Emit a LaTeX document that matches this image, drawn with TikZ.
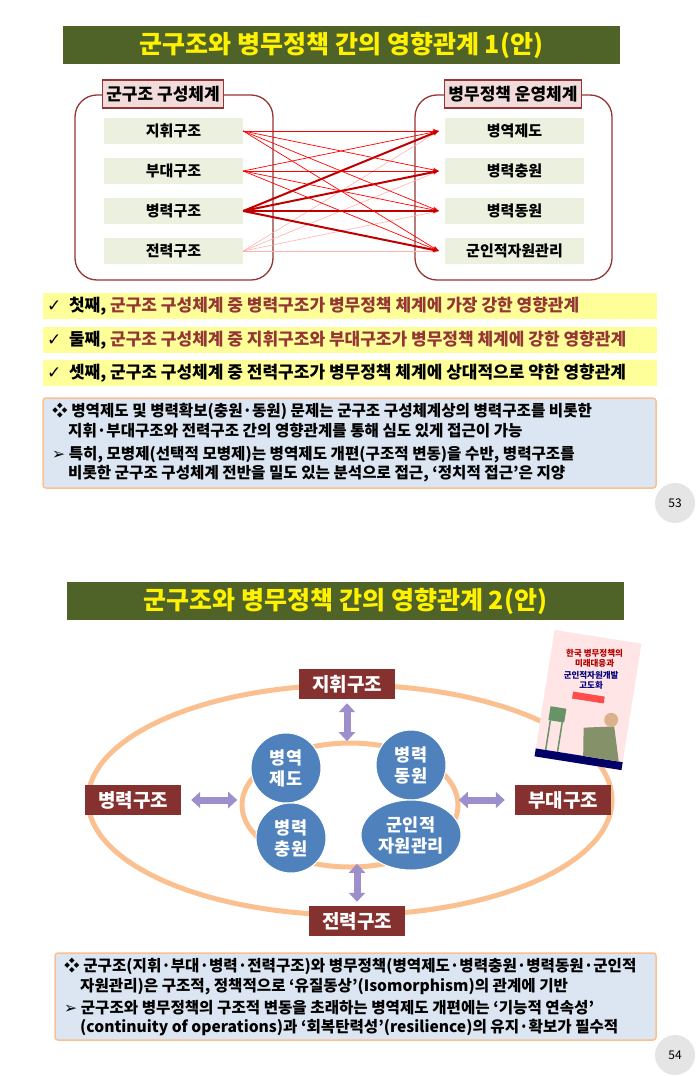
\documentclass[tikz,border=0pt]{standalone}
\usepackage{fontspec}
\setmainfont{Noto Sans CJK KR}
\newfontfamily\symfont{DejaVu Sans}
\usetikzlibrary{arrows.meta,positioning,shapes.geometric}
\definecolor{olive}{HTML}{4F6228}
\definecolor{dred}{HTML}{943634}
\definecolor{pinkf}{HTML}{F2DCDB}
\definecolor{itemf}{HTML}{EBF1DE}
\definecolor{yellowf}{HTML}{FFFF99}
\definecolor{bluef}{HTML}{DCE6F2}
\definecolor{orangel}{HTML}{FAC090}
\definecolor{circf}{HTML}{4F81BD}
\definecolor{lav}{HTML}{9C8FCB}
\newcommand{\chk}{{\symfont\normalfont\symfont ✓}}
\newcommand{\tri}{{\symfont ➢}}
\begin{document}
\begin{tikzpicture}[x=1pt,y=-1pt]
		\useasboundingbox (0,0) rectangle (699,1076);
		
		\tikzstyle{titlebar}=[fill=olive, text=yellow, font=\bfseries\fontsize{25}{28}\selectfont,
		minimum width=557, minimum height=38, inner sep=0pt]
		\tikzstyle{groupbox}=[draw=dred, line width=1.3pt, rounded corners=22pt]
		\tikzstyle{grouplabel}=[draw=dred, line width=1.3pt, fill=pinkf, font=\bfseries\fontsize{17}{19}\selectfont,
		minimum height=28, inner sep=4pt]
		\tikzstyle{item}=[fill=itemf, font=\bfseries\fontsize{15}{17}\selectfont, minimum width=139, minimum height=26, inner sep=0pt]
		\tikzstyle{checkbar}=[fill=yellowf, minimum width=614, minimum height=26, inner sep=0pt]
		\tikzstyle{checktext}=[anchor=west, font=\bfseries\fontsize{17}{19}\selectfont, inner sep=4pt]
		\tikzstyle{notebox}=[fill=bluef, draw=orangel, line width=1.5pt, rounded corners=3pt]
		\tikzstyle{notetext}=[font=\bfseries\fontsize{15.6}{19.5}\selectfont, align=left, anchor=north west, inner sep=0pt]
		\tikzstyle{pagenum}=[circle, fill=black!10, minimum size=40, font=\fontsize{12}{14}\selectfont]
		\tikzstyle{struct}=[fill=dred!90!black, text=white, font=\bfseries\fontsize{19}{22}\selectfont,
		minimum width=96, minimum height=30, inner sep=3pt]
		\tikzstyle{policy}=[circle, fill=circf, draw=white, line width=1pt, text=white, align=center,
		font=\bfseries\fontsize{17.5}{21}\selectfont, minimum size=70, inner sep=0pt]
		\tikzstyle{dblarrow}=[lav, line width=7pt, {Triangle[width=16pt,length=9pt]}-{Triangle[width=16pt,length=9pt]}]
		\tikzstyle{link}=[-{Stealth[length=6pt]}]
		
		% ---------- page 53 ----------
		\node[titlebar] (title1) at (341.5,45) {군구조와 병무정책 간의 영향관계 1(안)};
		
		\draw[groupbox] (75,95) rectangle (273,280);
		\draw[groupbox] (415,95) rectangle (612,280);
		\node[grouplabel] (lgroup) at (163,94) {군구조 구성체계};
		\node[grouplabel] (rgroup) at (513,94) {병무정책 운영체계};
		
		\node[item] (s1) at (173.5,131) {지휘구조};
		\node[item] (s2) at (173.5,171) {부대구조};
		\node[item] (s3) at (173.5,211) {병력구조};
		\node[item] (s4) at (173.5,251) {전력구조};
		\node[item] (p1) at (514.5,131) {병역제도};
		\node[item] (p2) at (514.5,171) {병력충원};
		\node[item] (p3) at (514.5,211) {병력동원};
		\node[item] (p4) at (514.5,251) {군인적자원관리};
		
		\foreach \j in {1,...,4} {
			\draw[link, red!30, line width=0.6pt] (s4.east) -- ([xshift=-6pt]p\j.west);
			\draw[link, red, line width=0.7pt] (s1.east) -- ([xshift=-6pt]p\j.west);
			\draw[link, red, line width=0.7pt] (s2.east) -- ([xshift=-6pt]p\j.west);
			\draw[link, red!75!black, line width=2pt] (s3.east) -- ([xshift=-6pt]p\j.west);
		}
		
		\node[checkbar] (c1) at (350,306) {};
		\node[checkbar] (c2) at (350,340) {};
		\node[checkbar] (c3) at (350,373) {};
		\node[checktext] at (c1.west) {\chk\ \ 첫째, \textcolor{dred}{군구조 구성체계 중 병력구조가 병무정책 체계에 가장 강한 영향관계}};
		\node[checktext] at (c2.west) {\chk\ \ 둘째, \textcolor{dred}{군구조 구성체계 중 지휘구조와 부대구조가 병무정책 체계에 강한 영향관계}};
		\node[checktext] at (c3.west) {\chk\ \ 셋째, 군구조 구성체계 중 전력구조가 병무정책 체계에 상대적으로 약한 영향관계};
		
		\draw[notebox] (43,398) rectangle (656,488);
		\node[notetext] (n1) at (52,403) {❖ 병역제도 및 병력확보(충원·동원) 문제는 군구조 구성체계상의 병력구조를 비롯한\\\hspace{16pt}지휘·부대구조와 전력구조 간의 영향관계를 통해 심도 있게 접근이 가능};
		\node[notetext] (n2) at (52,446) {\tri\ 특히, 모병제(선택적 모병제)는 병역제도 개편(구조적 변동)을 수반, 병력구조를\\\hspace{16pt}비롯한 군구조 구성체계 전반을 밀도 있는 분석으로 접근, ‘정치적 접근’은 지양};
		
		\node[pagenum] (pg53) at (675,503) {53};
		
		% ---------- page 54 ----------
		\node[titlebar] (title2) at (345.5,601) {군구조와 병무정책 간의 영향관계 2(안)};
		
		\draw[orangel, line width=5pt] (350,800) ellipse (262 and 115);
		\draw[orangel, line width=5pt] (350,805) ellipse (108 and 62);
		
		\node[struct] (cmd) at (347,684) {지휘구조};
		\node[struct] (mp) at (133,800) {병력구조};
		\node[struct] (unit) at (563,800) {부대구조};
		\node[struct] (pwr) at (357,921) {전력구조};
		
		\node[policy] (q1) at (286,768) {병역\\제도};
		\node[policy] (q2) at (411,765) {병력\\동원};
		\node[policy] (q3) at (291,838) {병력\\충원};
		\node[policy, ellipse, minimum width=100, minimum height=70] (q4) at (411,835) {군인적\\자원관리};
		
		\draw[dblarrow] ([yshift=-4pt]cmd.south) -- ++(0,38);
		\draw[dblarrow] ([xshift=10pt]mp.east) -- ++(46,0);
		\draw[dblarrow] ([xshift=-10pt]unit.west) -- ++(-46,0);
		\draw[dblarrow] ([yshift=4pt]pwr.north) -- ++(0,-38);
		
		% book cover
		\begin{scope}[shift={(588,700)}, rotate=-9]
			\fill[pink!40] (-44,-64) rectangle (44,64);
			\fill[blue!40!black] (-44,56) rectangle (44,64);
			\node[font=\bfseries\fontsize{8.5}{9.5}\selectfont, text=red!70!black, align=center] (book) at (0,-42) {한국 병무정책의\\미래대응과};
			\node[font=\bfseries\fontsize{8.5}{9.5}\selectfont, text=blue!50!black, align=center] (book2) at (0,-20) {군인적자원개발\\고도화};
			\fill[red!70] (-16,-6) rectangle (16,1);
			\fill[green!30!black!60] (-36,12) rectangle (-20,26);
			\draw[green!30!black!60, line width=1.5pt] (-34,26) -- (-34,56) (-22,26) -- (-22,56);
			\fill[olive!70] (0,28) -- (30,22) -- (40,56) -- (4,56) -- cycle;
			\fill[brown!60] (26,16) circle (7);
		\end{scope}
		
		\draw[notebox] (55,953) rectangle (656,1040);
		\node[notetext] (m1) at (64,958) {❖ 군구조(지휘·부대·병력·전력구조)와 병무정책(병역제도·병력충원·병력동원·군인적\\\hspace{16pt}자원관리)은 구조적, 정책적으로 ‘유질동상’(Isomorphism)의 관계에 기반};
		\node[notetext] (m2) at (64,1000) {\tri\ 군구조와 병무정책의 구조적 변동을 초래하는 병역제도 개편에는 ‘기능적 연속성’\\\hspace{16pt}(continuity of operations)과 ‘회복탄력성’(resilience)의 유지·확보가 필수적};
		
		\node[pagenum] (pg54) at (675,1055) {54};
		
\end{tikzpicture}
\end{document}
